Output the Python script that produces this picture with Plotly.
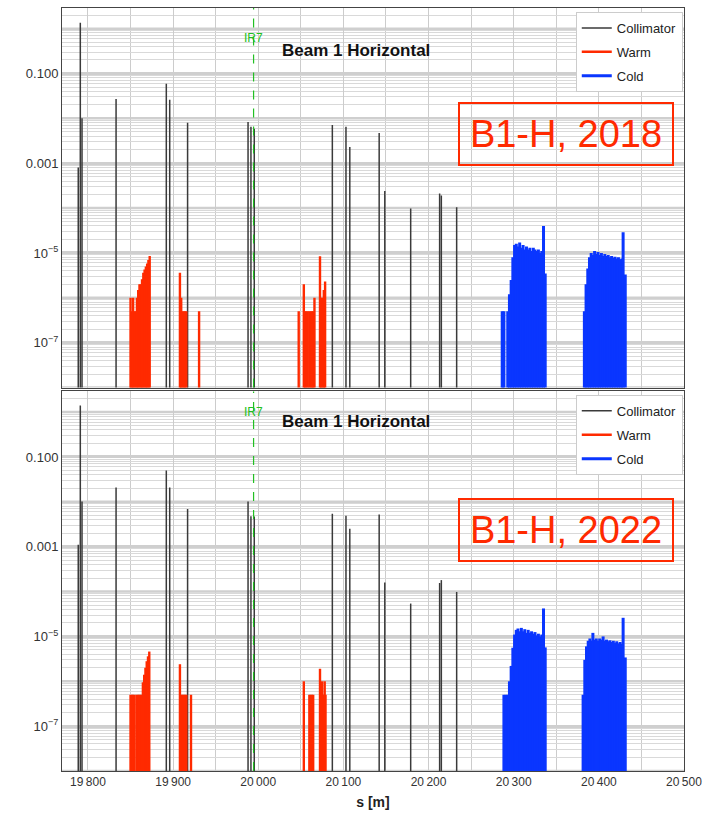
import plotly.graph_objects as go
from plotly.subplots import make_subplots

# ---------------- data ----------------
coll_s = [19788.6, 19791.0, 19793.0, 19833.0, 19892.0, 19896.0, 19917.0, 19988.0, 19991.4, 19995.3,
          20087.0, 20103.0, 20107.5, 20142.0, 20148.6, 20179.0, 20213.0, 20215.0, 20233.0]
coll_2018 = [8e-4, 1.35, 0.010, 0.027, 0.059, 0.026, 0.008, 0.0083, 0.0065, 0.0059,
             0.0071, 0.0065, 0.0023, 0.0047, 2.4e-4, 9.8e-5, 2.1e-4, 1.9e-4, 1.05e-4]
coll_2022 = [1.1e-3, 1.4, 0.0102, 0.021, 0.050, 0.021, 0.0069, 0.0102, 0.0048, 0.0047,
             0.0054, 0.0049, 0.0025, 0.0052, 1.6e-4, 5.4e-5, 1.55e-4, 1.8e-4, 9.8e-5]

warm_s_2018 = [19850.0, 19851.5, 19853.0, 19854.5, 19856.0, 19857.5, 19859.0, 19860.5, 19862.0, 19863.5,
               19865.0, 19866.5, 19868.0, 19869.5, 19871.0, 19872.5,
               19908.0, 19909.5, 19911.0, 19912.5, 19914.0, 19915.5, 19930.5,
               20047.5, 20053.5, 20055.0, 20056.5, 20058.0, 20060.0, 20061.5, 20063.0, 20064.5, 20066.0,
               20072.5, 20074.0, 20075.5, 20077.0, 20078.5]
warm_2018 = [1e-6, 5e-7, 1e-6, 5e-7, 5e-7, 1e-6, 1.5e-6, 2e-6, 2e-6, 2.6e-6,
             3.6e-6, 4.3e-6, 5e-6, 5.8e-6, 7e-6, 8.5e-6,
             3.6e-6, 1e-6, 5e-7, 5e-7, 5e-7, 5e-7, 5e-7,
             5e-7, 2e-6, 5e-7, 5e-7, 5e-7, 5e-7, 5e-7, 5e-7, 5e-7, 1e-6,
             8.4e-6, 1e-6, 1e-6, 1.5e-6, 2.3e-6]

warm_s_2022 = [19850.0, 19851.5, 19853.0, 19854.5, 19857.0, 19858.5, 19860.0, 19861.5, 19863.0, 19864.5,
               19866.0, 19867.5, 19869.0, 19870.5, 19872.0,
               19908.0, 19909.5, 19911.0, 19912.5, 19914.0, 19915.5, 19921.0,
               20053.5, 20060.0, 20061.5, 20063.0, 20064.5,
               20072.5, 20074.0, 20075.0, 20076.0, 20077.0, 20078.0, 20079.0]
warm_2022 = [5e-7, 5e-7, 5e-7, 5e-7, 5e-7, 5e-7, 5e-7, 5e-7, 5e-7, 9.5e-7,
             1.4e-6, 2e-6, 2.8e-6, 3.6e-6, 4.6e-6,
             2.4e-6, 5e-7, 5e-7, 5e-7, 5e-7, 5e-7, 5e-7,
             1e-6, 5e-7, 5e-7, 5e-7, 5e-7,
             1.9e-6, 5e-7, 1e-6, 5e-7, 5e-7, 1e-6, 5e-7]

cold_s_2018 = [20286.5, 20288.5, 20293, 20295, 20297, 20299, 20301, 20303, 20305, 20307, 20309, 20311,
               20313, 20315, 20317, 20319, 20321, 20323, 20325, 20327, 20329, 20331, 20333, 20335, 20337,
               20383, 20385, 20387, 20389, 20391, 20393, 20395, 20397, 20399, 20401, 20403, 20405,
               20407, 20409, 20411, 20413, 20415, 20417, 20419, 20421, 20423, 20425, 20427, 20428.5, 20431]
cold_2018 = [5e-7, 5e-7, 5e-7, 1.2e-6, 2.5e-6, 8e-6, 1.5e-5, 1.6e-5, 1.4e-5, 1.7e-5, 1.3e-5, 1.5e-5,
             1.2e-5, 1.4e-5, 1.2e-5, 1.3e-5, 1.1e-5, 1.3e-5, 1.2e-5, 1.1e-5, 1.2e-5, 1.0e-5, 1.1e-5, 4e-5, 3.5e-6,
             5e-7, 2e-6, 4.5e-6, 8e-6, 1.0e-5, 9e-6, 1.1e-5, 9.5e-6, 1.05e-5, 9e-6, 1.0e-5, 8.5e-6,
             9.5e-6, 8.5e-6, 9e-6, 8e-6, 8.5e-6, 7.8e-6, 8.2e-6, 7.5e-6, 8e-6, 7.2e-6, 7.5e-6, 2.9e-5, 3.3e-6]

cold_s_2022 = [20288.5, 20291, 20293, 20295, 20297, 20299, 20301, 20303, 20305, 20307, 20309, 20311,
               20313, 20315, 20317, 20319, 20321, 20323, 20325, 20327, 20329, 20331, 20333, 20335, 20337,
               20381.5, 20383.5, 20385.5, 20387.5, 20389.5, 20391.5, 20393, 20395, 20397, 20399, 20401, 20403,
               20405, 20407, 20409, 20411, 20413, 20415, 20417, 20419, 20421, 20423, 20425, 20427, 20428.5, 20431]
cold_2022 = [5e-7, 5e-7, 5e-7, 1e-6, 2.2e-6, 5.6e-6, 1.1e-5, 1.4e-5, 1.5e-5, 1.3e-5, 1.55e-5, 1.3e-5,
             1.45e-5, 1.2e-5, 1.4e-5, 1.2e-5, 1.3e-5, 1.15e-5, 1.25e-5, 1.05e-5, 1.15e-5, 1.0e-5, 1.1e-5, 4.2e-5, 5.7e-6,
             5e-7, 3e-6, 6e-6, 8e-6, 9e-6, 8e-6, 1.2e-5, 8.5e-6, 9e-6, 8e-6, 9e-6, 8.5e-6,
             1.0e-5, 8e-6, 8.5e-6, 7.8e-6, 8.2e-6, 7.5e-6, 8e-6, 7.2e-6, 7.8e-6, 7e-6, 7.5e-6, 6.8e-6, 2.6e-5, 3.4e-6]

ir7_s = 19994.5
panel_labels = ["B1-H, 2018", "B1-H, 2022"]
y_tickvals = [1e-7, 1e-5, 1e-3, 1e-1]
y_ticktext = ["10<sup>\u22127</sup>", "10<sup>\u22125</sup>", "0.001", "0.100"]
band_decades = [1e-8, 1e-6, 1e-4, 1e-2, 1]

# ---------------- helpers ----------------
BASE = 1e-9


def stems(xs, ys):
    X, Y = [], []
    for x, y in zip(xs, ys):
        X += [x, x, None]
        Y += [BASE, y, None]
    return X, Y


FONT = "Liberation Sans, Arial, Helvetica, sans-serif"
C_COLL = "#3a3a3a"
C_WARM = "#ff2a00"
C_COLD = "#0a36ff"
C_RED = "#ff2a00"
C_IR7 = "#22c022"

fig = make_subplots(rows=2, cols=1, shared_xaxes=True, vertical_spacing=4 / 771)

panels = [
    (1, coll_2018, warm_s_2018, warm_2018, cold_s_2018, cold_2018, "legend"),
    (2, coll_2022, warm_s_2022, warm_2022, cold_s_2022, cold_2022, "legend2"),
]
for row, coll, ws, wv, cs, cv, lg in panels:
    x, y = stems(coll_s, coll)
    fig.add_trace(go.Scatter(x=x, y=y, mode="lines", name="Collimator", legend=lg, legendgroup="c%d" % row,
                             line=dict(color=C_COLL, width=1.5), hoverinfo="skip"), row=row, col=1)
    x, y = stems(ws, wv)
    fig.add_trace(go.Scatter(x=x, y=y, mode="lines", name="Warm", legend=lg, legendgroup="w%d" % row,
                             line=dict(color=C_WARM, width=2.4), hoverinfo="skip"), row=row, col=1)
    x, y = stems(cs, cv)
    fig.add_trace(go.Scatter(x=x, y=y, mode="lines", name="Cold", legend=lg, legendgroup="k%d" % row,
                             line=dict(color=C_COLD, width=3.0), hoverinfo="skip"), row=row, col=1)

minor_vals = []
for e in range(-9, 1):
    for k in range(2, 10):
        minor_vals.append(k * 10.0 ** e)

for row in (1, 2):
    fig.update_yaxes(type="log", range=[-8, 0.46], tickvals=y_tickvals, ticktext=y_ticktext,
                     showgrid=True, gridcolor="#cfcfcf", gridwidth=2.5,
                     minor=dict(tickmode="array", tickvals=minor_vals, showgrid=True,
                                gridcolor="#d9d9d9", gridwidth=1, ticks=""),
                     showline=True, linecolor="#444", linewidth=1, mirror=True,
                     ticks="", tickfont=dict(size=13, color="#333", family=FONT),
                     zeroline=False, row=row, col=1)
    fig.update_xaxes(range=[19769.5, 20500], dtick=100, tick0=19800, tickformat=",d",
                     showgrid=True, gridcolor="#cccccc", gridwidth=1,
                     minor=dict(dtick=50, tick0=19800, showgrid=True, gridcolor="#cccccc", gridwidth=1, ticks=""),
                     showline=True, linecolor="#444", linewidth=1, mirror=True,
                     ticks="", tickfont=dict(size=12, color="#333", family=FONT),
                     zeroline=False, row=row, col=1)
fig.update_xaxes(showticklabels=False, row=1, col=1)
fig.update_xaxes(title=dict(text="<b>s [m]</b>", font=dict(size=14, color="#222", family=FONT), standoff=8),
                 row=2, col=1)

# decade bands without labels
for yref, xref in (("y", "x domain"), ("y2", "x2 domain")):
    for d in band_decades:
        fig.add_shape(type="line", xref=xref, yref=yref, x0=0, x1=1, y0=d, y1=d, layer="below",
                      line=dict(color="#cfcfcf", width=2.5))

# IR7 lines
for yref in ("y domain", "y2 domain"):
    fig.add_shape(type="line", xref="x", yref=yref, x0=ir7_s, x1=ir7_s, y0=0, y1=1,
                  line=dict(color=C_IR7, width=1.2, dash="dash"))

ann = []
title_y = [0.9598, 0.4578]
ir7_y = [0.9728, 0.4708]
box_y = [0.8346, 0.3165]
for i in range(2):
    ann.append(dict(text="<b>Beam 1 Horizontal</b>", x=0.4727, y=title_y[i], xref="paper", yref="paper",
                    showarrow=False, font=dict(size=17, color="#111", family=FONT)))
    ann.append(dict(text="IR7", x=ir7_s, y=ir7_y[i], xref="x", yref="paper", showarrow=False,
                    font=dict(size=12, color=C_IR7, family=FONT)))
    ann.append(dict(text=panel_labels[i], x=0.8103, y=box_y[i], xref="paper", yref="paper", showarrow=False,
                    font=dict(size=38, color=C_RED, family=FONT), bordercolor=C_RED, borderwidth=2,
                    borderpad=0, width=212, height=60, xanchor="center", yanchor="middle"))
fig.update_layout(annotations=ann)

legend_style = dict(bgcolor="white", bordercolor="#cccccc", borderwidth=1,
                    font=dict(size=13, color="#222", family=FONT), tracegroupgap=4,
                    xanchor="left", yanchor="top", x=0.826)
fig.update_layout(
    legend=dict(**legend_style, y=0.9948),
    legend2=dict(**legend_style, y=0.4929),
    width=712, height=814,
    margin=dict(l=62, r=28, t=7, b=36),
    paper_bgcolor="white", plot_bgcolor="white",
    separators=".\u2009",
    font=dict(family=FONT),
    showlegend=True,
)

fig.write_html("out.html")
